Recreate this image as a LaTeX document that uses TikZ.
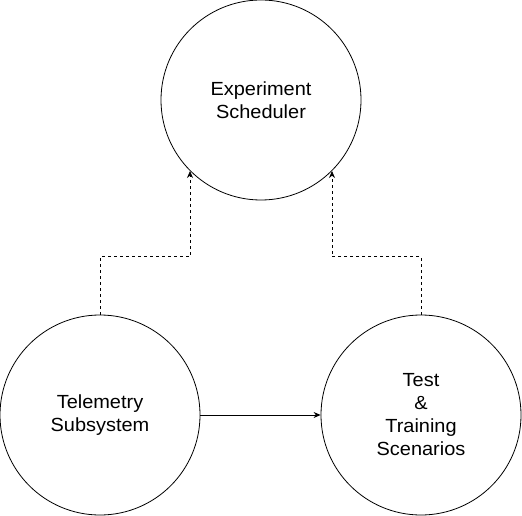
\documentclass[tikz,border=0pt]{standalone}
\usepackage{fontspec}
\setmainfont{Liberation Sans}[FakeStretch = 1.05]
\usetikzlibrary{arrows.meta}

\begin{document}
\begin{tikzpicture}[x = 1pt, y = 1pt, line width = 0.8pt,
                        block/.style = {circle, draw, minimum size = 200pt, inner sep = 0pt,
                                        align = center, font = \fontsize{19}{23}\selectfont},
                        feed/.style = {dash pattern = on 3pt off 3pt, -{Stealth[length = 7pt, width = 6pt]}},
                        flow/.style = {-{Stealth[length = 7pt, width = 6pt]}}]
      \useasboundingbox (0, 0) rectangle (522, -516);

      \node [block] (sched) at (261, -100) {Experiment\\Scheduler};
      \node [block] (telem) at (100, -415) {Telemetry\\Subsystem};
      \node [block] (scen) at (421, -415) {Test\\\&\\Training\\Scenarios};

      \draw [feed] (telem.north) -- ++(0, 58) -| (sched.225);
      \draw [feed] (scen.north) -- ++(0, 58) -| (sched.315);
      \draw [flow] (telem) -- (scen);
      \end{tikzpicture}
\end{document}
